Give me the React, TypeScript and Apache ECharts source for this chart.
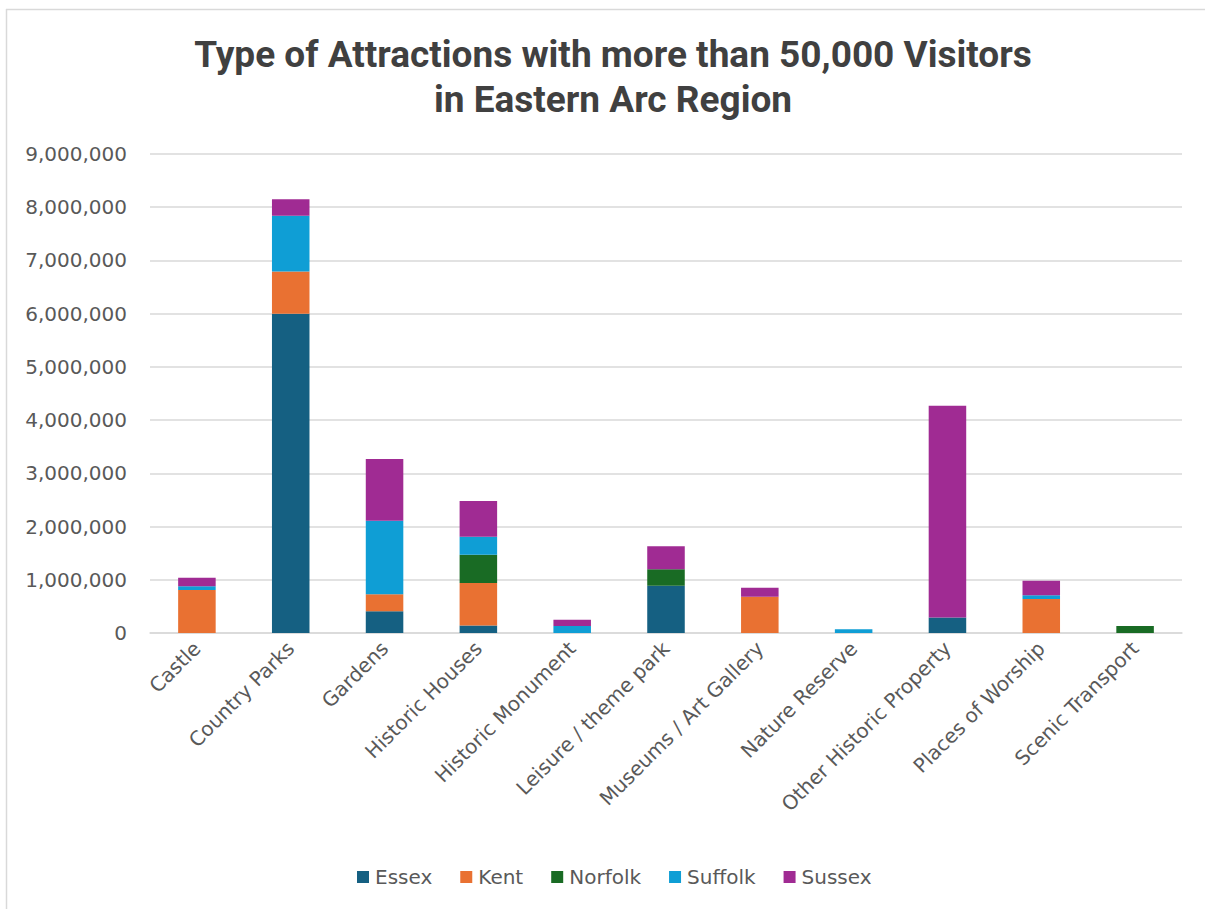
import React, { useEffect, useRef } from "react";
import * as echarts from "echarts";

const categories = [
  "Castle",
  "Country Parks",
  "Gardens",
  "Historic Houses",
  "Historic Monument",
  "Leisure / theme park",
  "Museums / Art Gallery",
  "Nature Reserve",
  "Other Historic Property",
  "Places of Worship",
  "Scenic Transport",
];

const essex = [0, 6000000, 410000, 140000, 0, 890000, 0, 0, 290000, 0, 0];
const kent = [810000, 790000, 320000, 800000, 0, 0, 680000, 0, 0, 640000, 0];
const norfolk = [0, 0, 0, 530000, 0, 310000, 0, 0, 0, 0, 130000];
const suffolk = [70000, 1050000, 1380000, 340000, 130000, 0, 0, 70000, 0, 70000, 0];
const sussex = [160000, 310000, 1160000, 670000, 120000, 430000, 170000, 0, 3980000, 270000, 0];

const seriesNames = ["Essex", "Kent", "Norfolk", "Suffolk", "Sussex"];
const seriesData = [essex, kent, norfolk, suffolk, sussex];
const seriesColors = ["#156082", "#E97132", "#196B24", "#0F9ED5", "#A02B93"];

const yTicks = { min: 0, max: 9000000, interval: 1000000 };

export default function App() {
  const ref = useRef<HTMLDivElement>(null);

  useEffect(() => {
    if (!ref.current) return;
    const chart = echarts.init(ref.current, null, { renderer: "svg" });
    const font = "'DejaVu Sans', sans-serif";
    chart.setOption({
      animation: false,
      backgroundColor: "#ffffff",
      title: {
        text: "Type of Attractions with more than 50,000 Visitors\nin Eastern Arc Region",
        left: 608,
        textAlign: "center",
        top: 27,
        textStyle: {
          fontFamily: "Roboto, 'Noto Sans', sans-serif",
          fontWeight: "bold",
          fontSize: 37,
          lineHeight: 45,
          color: "#404040",
        },
      },
      legend: {
        data: seriesNames,
        bottom: 17,
        left: 352,
        itemWidth: 12,
        itemHeight: 12,
        itemGap: 28,
        icon: "rect",
        textStyle: { fontFamily: font, fontSize: 20, color: "#595959", padding: [0, 0, 0, 1] },
      },
      grid: { left: 150, right: 23, top: 154, bottom: 276, containLabel: false },
      xAxis: {
        type: "category",
        data: categories,
        axisTick: { show: false },
        axisLine: { show: true, lineStyle: { color: "#d9d9d9", width: 1.5 } },
        axisLabel: {
          rotate: 45,
          interval: 0,
          margin: 12,
          fontFamily: font,
          fontSize: 20,
          color: "#595959",
        },
      },
      yAxis: {
        type: "value",
        min: yTicks.min,
        max: yTicks.max,
        interval: yTicks.interval,
        axisLine: { show: false },
        axisTick: { show: false },
        splitLine: { lineStyle: { color: "#d9d9d9", width: 1.5 } },
        axisLabel: {
          margin: 23,
          fontFamily: font,
          fontSize: 20,
          color: "#595959",
          formatter: (v: number) => v.toLocaleString("en-US"),
        },
      },
      series: seriesNames.map((name, i) => ({
        name,
        type: "bar",
        stack: "total",
        barWidth: "40%",
        data: seriesData[i],
        itemStyle: { color: seriesColors[i] },
      })),
      graphic: [
        {
          type: "line",
          shape: { x1: 6.5, y1: 9, x2: 6.5, y2: 909 },
          style: { stroke: "#d9d9d9", lineWidth: 1.5 },
          silent: true,
        },
        {
          type: "line",
          shape: { x1: 6, y1: 9.5, x2: 1205, y2: 9.5 },
          style: { stroke: "#d9d9d9", lineWidth: 1.5 },
          silent: true,
        },
      ],
    });
    return () => chart.dispose();
  }, []);

  return (
    <div
      ref={ref}
      style={{ position: "fixed", left: 0, top: 0, width: 1205, height: 909 }}
    />
  );
}
